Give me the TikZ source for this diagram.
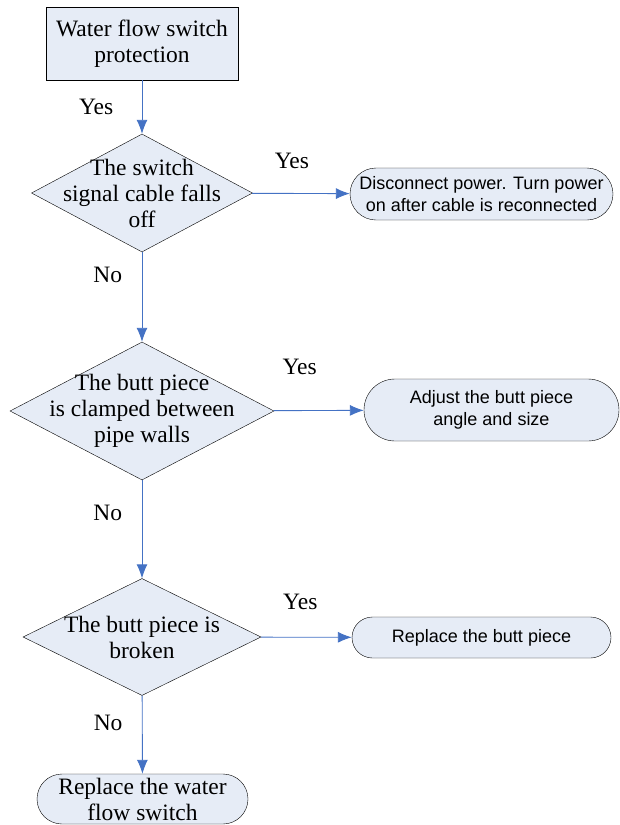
\documentclass[tikz,border=0pt]{standalone}
\usepackage{fontspec}
\setmainfont{Liberation Serif}
\setsansfont{Liberation Sans}
\usetikzlibrary{arrows.meta, positioning, shapes.geometric, shapes.misc}
\definecolor{flowfill}{RGB}{230,236,246}
\definecolor{flowblue}{RGB}{68,114,196}

\begin{document}
\begin{tikzpicture}[x=1pt, y=-1pt, >=Latex,
        box/.style={draw=black, fill=flowfill, text=black, align=center,
                    minimum width=192pt, minimum height=73pt, inner sep=0pt,
                    font=\fontsize{23.5}{26}\selectfont},
        dia/.style={diamond, draw=black, fill=flowfill, inner sep=0pt},
        diatext/.style={align=center, text=black, inner sep=0pt,
                        font=\fontsize{23.5}{26}\selectfont},
        pill/.style={rounded rectangle, draw=black, fill=flowfill, text=black,
                     align=center, inner sep=0pt,
                     font=\sffamily\fontsize{18}{22}\selectfont},
        arr/.style={draw=flowblue, line width=0.9pt,
                    -{Latex[length=14pt, width=11pt]}},
        lab/.style={font=\fontsize{23.5}{26}\selectfont, text=black}]
      \useasboundingbox (0,0) rectangle (620,825);
      \node[box] (start) at (142,43.5) {Water flow switch\\protection};
      \node[dia, minimum width=221pt, minimum height=118pt,
            label={[diatext]center:The switch\\signal cable falls\\off}] (d1) at (142,193) {};
      \node[dia, minimum width=264pt, minimum height=138pt,
            label={[diatext]center:The butt piece\\is clamped between\\pipe walls}] (d2) at (142,411) {};
      \node[dia, minimum width=238pt, minimum height=117pt,
            label={[diatext]center:The butt piece is\\broken}] (d3) at (142,637) {};
      \node[pill, minimum width=263pt, minimum height=52pt] (r1) at (481.5,194)
            {Disconnect power. Turn power\\on after cable is reconnected};
      \node[pill, minimum width=255pt, minimum height=62pt] (r2) at (491.5,410)
            {Adjust the butt piece\\angle and size};
      \node[pill, minimum width=259pt, minimum height=41pt] (r3) at (481.5,637.5)
            {Replace the butt piece};
      \node[pill, minimum width=211pt, minimum height=50pt,
            font=\fontsize{23.5}{26}\selectfont] (last) at (142.5,799)
            {Replace the water\\flow switch};
      \draw[arr] (start) -- node[lab, left=25pt]{Yes} (d1);
      \draw[arr] (d1) -- node[lab, above=21pt, xshift=-9pt]{Yes} (r1);
      \draw[arr] (d1) -- node[lab, pos=0.25, left=16pt]{No} (d2);
      \draw[arr] (d2) -- node[lab, above=32pt, xshift=-19pt]{Yes} (r2);
      \draw[arr] (d2) -- node[lab, pos=0.33, left=16pt]{No} (d3);
      \draw[arr] (d3) -- node[lab, above=24pt, xshift=-6pt]{Yes} (r3);
      \draw[arr] (d3) -- node[lab, pos=0.35, left=16pt]{No} (last);
    \end{tikzpicture}
\end{document}
